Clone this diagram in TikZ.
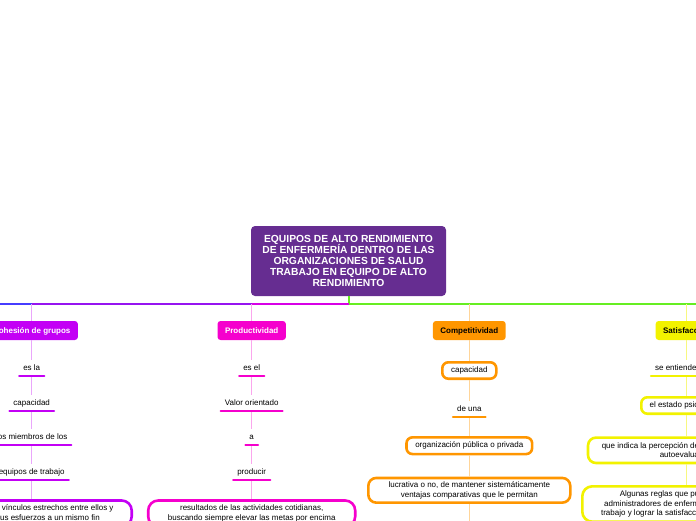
\documentclass[tikz,border=0pt]{standalone}
\usepackage{fontspec}
\setmainfont{Liberation Sans}
\usepackage{xcolor}
\usepackage{tikz}
\usetikzlibrary{positioning}

\definecolor{rootpurple}{RGB}{102,45,145}
\definecolor{cohviolet}{RGB}{195,0,245}
\definecolor{prodpink}{RGB}{245,0,205}
\definecolor{compgold}{RGB}{255,150,0}
\definecolor{satyellow}{RGB}{242,242,0}
\definecolor{barblue}{RGB}{70,60,255}
\definecolor{barviolet}{RGB}{150,20,240}
\definecolor{barmagenta}{RGB}{215,0,230}
\definecolor{bargreen}{RGB}{102,238,34}

\newcommand{\rootfont}{\bfseries\fontsize{10.3}{11.1}\selectfont\lineskiplimit=-10pt\relax}

\begin{document}
\begin{tikzpicture}[x=1pt, y=-1pt,
    root/.style={fill=rootpurple, text=white, rounded corners=4pt, align=center,
      font=\rootfont, minimum width=195pt, minimum height=70pt, inner sep=0pt},
    topic/.style={fill=#1, rounded corners=3pt, font=\bfseries\fontsize{8}{9.5}\selectfont,
      minimum height=19pt, inner xsep=7.5pt, inner ysep=0pt, text height=7pt, text depth=1.2pt},
    word/.style={font=\fontsize{8}{9.5}\selectfont, anchor=base, inner xsep=4pt, inner ysep=4pt,
      text height=6pt, text depth=2pt},
    card/.style={draw=#1, fill=white, line width=2.6pt, rounded corners=6pt, align=center,
      font=\fontsize{8}{9.5}\selectfont, inner sep=0pt},
    uline/.style={draw=#1, line width=2pt, line cap=round},
    twig/.style={draw=#1, line width=1pt},
    bar/.style={draw=#1, line width=2pt}]

  \useasboundingbox (0,0) rectangle (696,520);

  % Root
  \node[root] (root) at (348.5,261) {EQUIPOS DE ALTO RENDIMIENTO\\ DE ENFERMERÍA DENTRO DE LAS\\
    ORGANIZACIONES DE SALUD\\ TRABAJO EN EQUIPO DE ALTO\\ RENDIMIENTO};

  % Branch bar
  \coordinate (hub) at (348.5,304);
  \coordinate (jC) at (31.7,304);
  \coordinate (jP) at (251.7,304);
  \coordinate (jK) at (469.3,304);
  \coordinate (jS) at (686.7,304);
  \coordinate (lEnd) at (-20,304);
  \coordinate (rEnd) at (716,304);

  \draw[bar=bargreen] (root) -- (hub);
  \draw[bar=bargreen] (hub) -- (jK) -- (jS) -- (rEnd);
  \draw[bar=barmagenta] (hub) -- (jP);
  \draw[bar=barviolet] (jP) -- (jC);
  \draw[bar=barblue] (jC) -- (lEnd);

  % Cohesion de grupos
  \node[topic=cohviolet, text=white] (cohTop) at (31.7,330.5) {Cohesión de grupos};
  \node[word] (coh1) at (31.7,370) {es la};
  \node[word] (coh2) at (31.7,405) {capacidad};
  \node[word] (coh3) at (31.7,439) {los miembros de los};
  \node[word] (coh4) at (31.7,474) {equipos de trabajo};
  \node[card=cohviolet, rounded corners=10pt, minimum width=200pt, minimum height=26pt]
    (cohCard) at (31.7,513.5) {Mantienen los vínculos estrechos entre ellos y\\
    y dirigen sus esfuerzos a un mismo fin};

  \draw[twig=cohviolet!35] (jC) -- (cohTop);
  \draw[twig=cohviolet!35] (cohTop) -- (coh1);
  \draw[twig=cohviolet!35] (coh1) -- (coh2);
  \draw[twig=cohviolet!35] (coh2) -- (coh3);
  \draw[twig=cohviolet!35] (coh3) -- (coh4);
  \draw[twig=cohviolet!35] (coh4) -- (cohCard);
  \foreach \n in {coh1,coh2,coh3,coh4}
    \draw[uline=cohviolet] (\n.south west) -- (\n.south east);

  % Productividad
  \node[topic=prodpink, text=white] (prodTop) at (251.7,330.5) {Productividad};
  \node[word] (prod1) at (251.7,370) {es el};
  \node[word] (prod2) at (251.7,405) {Valor orientado};
  \node[word] (prod3) at (251.7,439) {a};
  \node[word] (prod4) at (251.7,474) {producir};
  \node[card=prodpink, rounded corners=10pt, minimum width=207pt, minimum height=26pt]
    (prodCard) at (251.7,513.5) {resultados de las actividades cotidianas,\\
    buscando siempre elevar las metas por encima};

  \draw[twig=prodpink!35] (jP) -- (prodTop);
  \draw[twig=prodpink!35] (prodTop) -- (prod1);
  \draw[twig=prodpink!35] (prod1) -- (prod2);
  \draw[twig=prodpink!35] (prod2) -- (prod3);
  \draw[twig=prodpink!35] (prod3) -- (prod4);
  \draw[twig=prodpink!35] (prod4) -- (prodCard);
  \foreach \n in {prod1,prod2,prod3,prod4}
    \draw[uline=prodpink] (\n.south west) -- (\n.south east);

  % Competitividad
  \node[topic=compgold] (compTop) at (469.3,330.5) {Competitividad};
  \node[card=compgold, minimum width=54pt, minimum height=16.4pt] (comp1) at (469.3,370.5) {capacidad};
  \node[word] (comp2) at (469.3,411) {de una};
  \node[card=compgold, minimum width=125.7pt, minimum height=16.7pt] (comp3) at (469.3,445.7)
    {organización pública o privada};
  \node[card=compgold, rounded corners=8pt, minimum width=202pt, minimum height=24.7pt] (comp4)
    at (469.3,490.3) {lucrativa o no, de mantener sistemáticamente\\ ventajas comparativas que le permitan};
  \coordinate (compEnd) at (469.3,530);

  \draw[twig=compgold!40] (jK) -- (compTop);
  \draw[twig=compgold!40] (compTop) -- (comp1);
  \draw[twig=compgold!40] (comp1) -- (comp2);
  \draw[twig=compgold!40] (comp2) -- (comp3);
  \draw[twig=compgold!40] (comp3) -- (comp4);
  \draw[twig=compgold!40] (comp4) -- (compEnd);
  \draw[uline=compgold] (comp2.south west) -- (comp2.south east);

  % Satisfaccion
  \node[topic=satyellow] (satTop) at (686.7,330.5) {Satisfacción};
  \node[word] (sat1) at (686.7,370) {se entiende como};
  \node[card=satyellow, minimum width=90.8pt, minimum height=16.4pt] (sat2) at (686.7,405.5)
    {el estado psicológico};
  \node[card=satyellow, rounded corners=8pt, minimum width=197.4pt, minimum height=25.4pt] (sat3)
    at (686.7,450.3) {que indica la percepción de la persona sobre su\\ autoevaluación};
  \node[card=satyellow, rounded corners=10pt, minimum width=208.8pt, minimum height=35.4pt] (sat4)
    at (686.7,504) {Algunas reglas que pueden seguir los\\ administradores de enfermería para mejorar el\\
    trabajo y lograr la satisfacción laboral del equipo};

  \draw[twig=satyellow!50] (jS) -- (satTop);
  \draw[twig=satyellow!50] (satTop) -- (sat1);
  \draw[twig=satyellow!50] (sat1) -- (sat2);
  \draw[twig=satyellow!50] (sat2) -- (sat3);
  \draw[twig=satyellow!50] (sat3) -- (sat4);
  \draw[uline=satyellow] (sat1.south west) -- (sat1.south east);
\end{tikzpicture}
\end{document}
